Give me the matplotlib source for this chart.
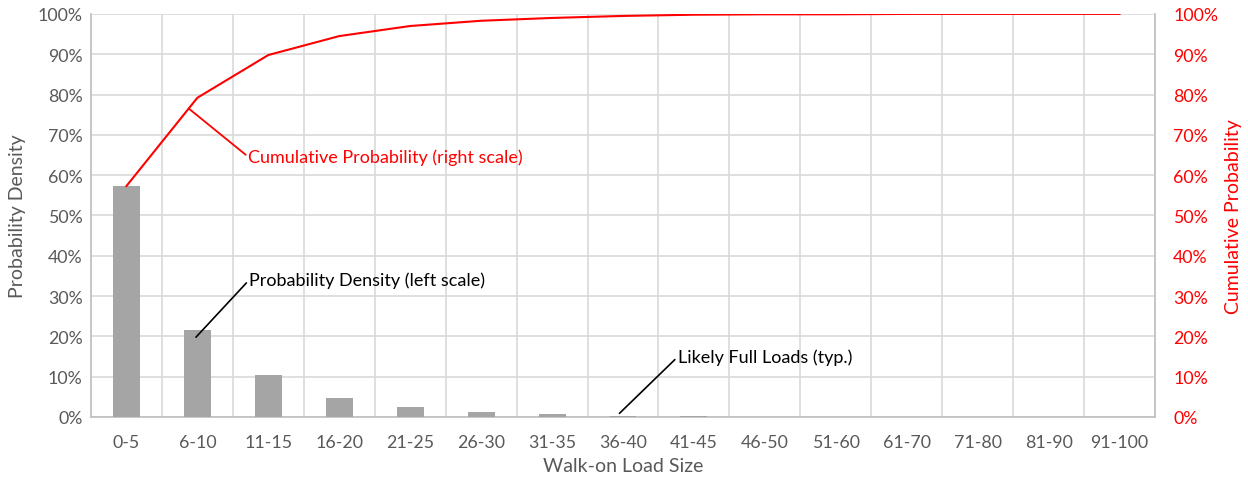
import matplotlib.pyplot as plt
import numpy as np

plt.rcParams['font.family'] = ['Lato', 'DejaVu Sans']

sizes = ['0-5', '6-10', '11-15', '16-20', '21-25', '26-30', '31-35', '36-40',
         '41-45', '46-50', '51-60', '61-70', '71-80', '81-90', '91-100']
density = [57.3, 21.5, 10.4, 4.7, 2.4, 1.2, 0.7, 0.3,
           0.15, 0.1, 0.1, 0.1, 0.1, 0.1, 0.1]
cumulative = [57.3, 79.2, 89.8, 94.5, 97.0, 98.3, 99.0, 99.5,
              99.8, 99.9, 99.9, 100.0, 100.0, 100.0, 100.0]
pct_ticks = list(range(0, 101, 10))

gray = '#595959'
grid = '#D9D9D9'

fig = plt.figure(figsize=(12.48, 4.81), dpi=100)
ax = fig.add_axes([0.0729, 0.131, 0.8526, 0.838])
x = np.arange(len(sizes))

ax.bar(x, density, width=0.38, color='#A5A5A5', zorder=3)
ax.set_xlim(-0.5, len(sizes) - 0.5)
ax.set_ylim(0, 100)
ax.set_yticks(pct_ticks)
ax.set_yticklabels(['%d%%' % v for v in pct_ticks])
ax.set_xticks(x)
ax.set_xticklabels(sizes)
ax.set_xticks(np.arange(len(sizes) + 1) - 0.5, minor=True)
ax.grid(which='minor', axis='x', color=grid, lw=1.2, zorder=0)
ax.grid(which='major', axis='y', color=grid, lw=1.2, zorder=0)
ax.tick_params(which='both', length=0, labelsize=12.8, colors=gray, pad=12)
ax.tick_params(axis='y', pad=6)
for s in ['left', 'right', 'bottom']:
    ax.spines[s].set_color('#BFBFBF')
    ax.spines[s].set_linewidth(1.2)
ax.spines['top'].set_visible(False)
ax.set_xlabel('Walk-on Load Size', fontsize=14, color=gray)
ax.xaxis.set_label_coords(0.5, -0.1)
ax.set_ylabel('Probability Density', fontsize=14, color=gray)
ax.yaxis.set_label_coords(-0.061, 0.5)

ax2 = ax.twinx()
ax2.plot(x, cumulative, color='#FF0000', lw=1.5, zorder=4)
ax2.set_ylim(0, 100)
ax2.set_yticks(pct_ticks)
ax2.set_yticklabels(['%d%%' % v for v in pct_ticks])
ax2.tick_params(length=0, labelsize=12.8, colors='#FF0000', pad=13)
for s in ax2.spines.values():
    s.set_visible(False)
ax2.set_ylabel('Cumulative Probability', fontsize=14, color='#FF0000')
ax2.yaxis.set_label_coords(1.066, 0.5)

ax2.annotate('Cumulative Probability (right scale)', xy=(0.88, 76.5), xytext=(1.72, 64.5),
             color='#FF0000', fontsize=13, va='center', ha='left',
             arrowprops=dict(arrowstyle='-', color='#FF0000', lw=1.3, shrinkA=0, shrinkB=0,
                             relpos=(0, 0.5)))
ax.annotate('Probability Density (left scale)', xy=(0.98, 19.8), xytext=(1.73, 34.0),
            color='black', fontsize=13, va='center', ha='left',
            arrowprops=dict(arrowstyle='-', color='black', lw=1.2, shrinkA=0, shrinkB=0,
                            relpos=(0, 0.5)))
ax.annotate('Likely Full Loads (typ.)', xy=(6.95, 0.9), xytext=(7.77, 14.9),
            color='black', fontsize=13, va='center', ha='left',
            arrowprops=dict(arrowstyle='-', color='black', lw=1.2, shrinkA=0, shrinkB=0,
                            relpos=(0, 0.5)))

plt.savefig('out.png', dpi=100)
